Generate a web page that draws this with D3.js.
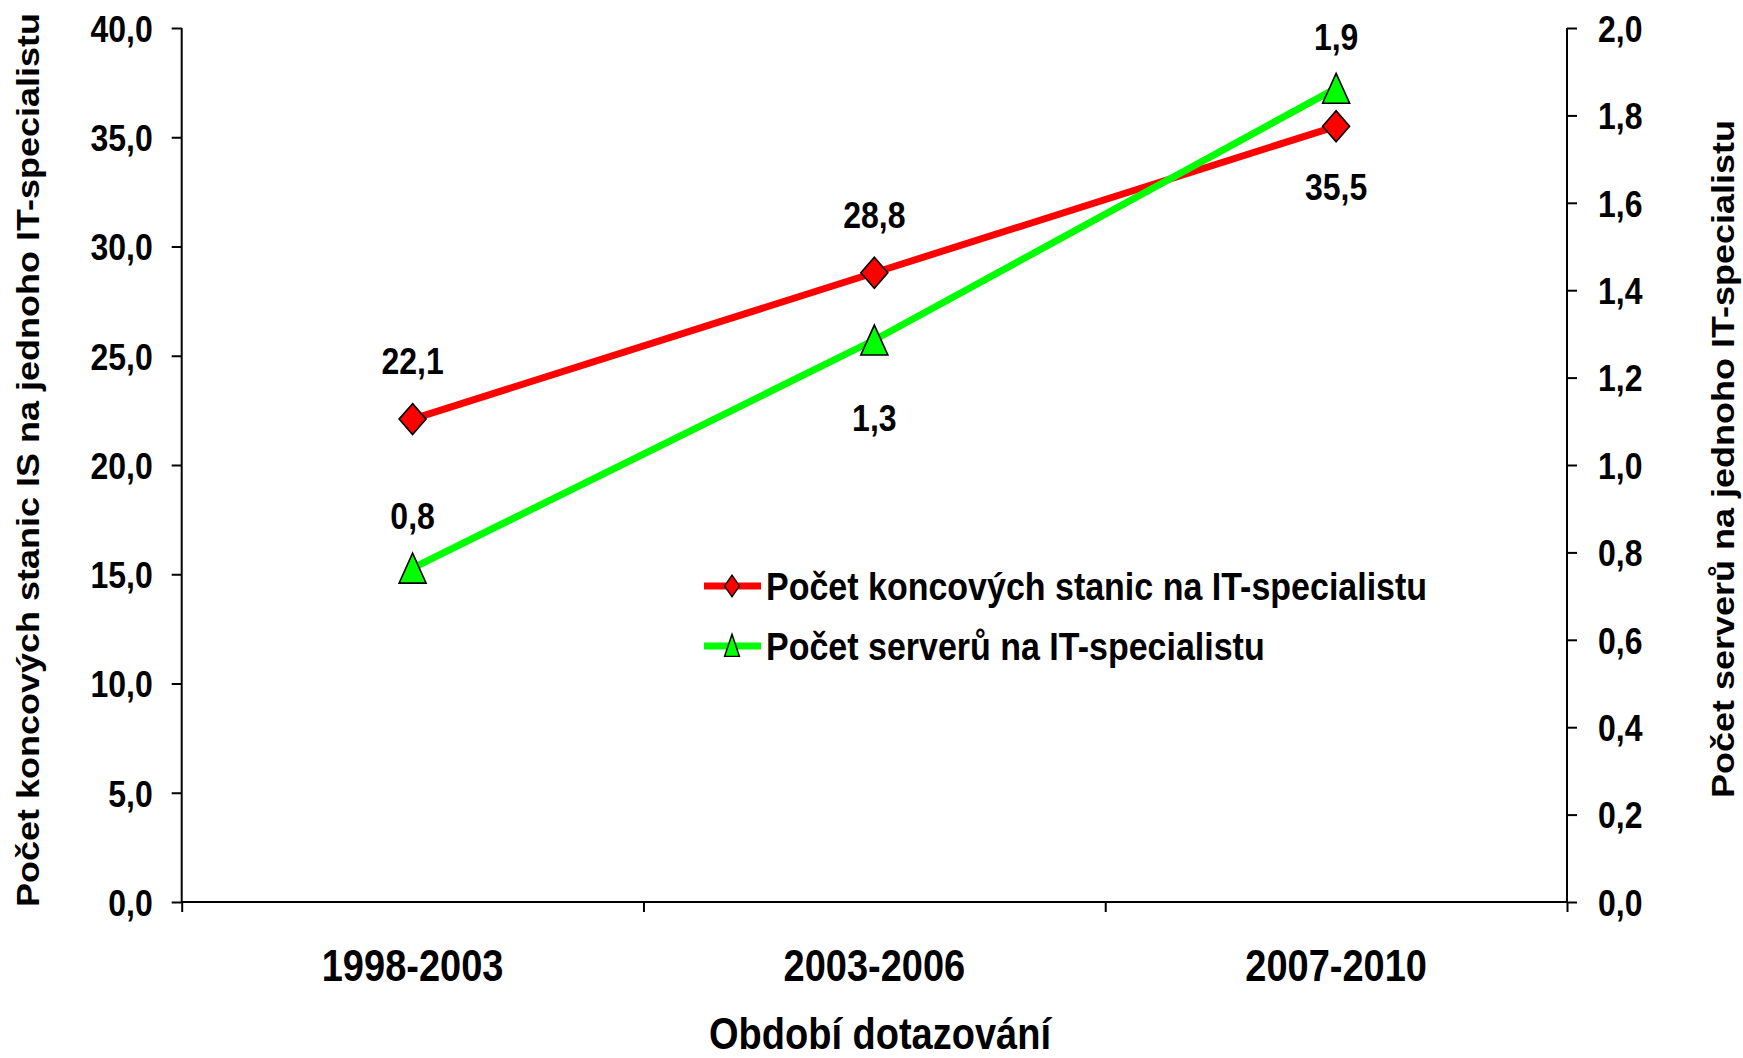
<!DOCTYPE html>
<html>
<head>
<meta charset="utf-8">
<script src="https://cdn.jsdelivr.net/npm/d3@7"></script>
<style>
  body{margin:0;background:#fff;}
  text{font-family:"Liberation Sans",Arial,sans-serif;font-weight:bold;fill:#000;}
  .axis path,.axis line{stroke:#000;stroke-width:2px;}
</style>
</head>
<body>
<svg id="chart" width="1743" height="1058"></svg>
<script>
//Terminals and servers per one IT specialist, by survey period

var periods = ["1998-2003","2003-2006","2007-2010"];
var stations = [22.1, 28.8, 35.5];      //left axis
var servers = [0.764, 1.286, 1.862];    //right axis
var stationLabelPos = ["above","above","below"];
var serverLabelPos = ["above","below","above"];
var leftTicks = [0,5,10,15,20,25,30,35,40];
var rightTicks = [0,0.2,0.4,0.6,0.8,1.0,1.2,1.4,1.6,1.8,2.0];
var seriesNames = ["Počet koncových stanic na IT-specialistu","Počet serverů na IT-specialistu"];
var leftTitle = "Počet koncových stanic IS na jednoho IT-specialistu";
var rightTitle = "Počet serverů na jednoho IT-specialistu";
var xTitle = "Období dotazování";

var svg = d3.select("#chart");
var stretch = 1.15; //the original picture is a bit taller than wide

let pLeft = 181.7, pRight = 1567, pTop = 28, pBottom = 902;

let xBand = d3.scaleBand().domain(periods).range([pLeft,pRight]).paddingInner(0).paddingOuter(0);
let xPos = d => xBand(d) + xBand.bandwidth()/2;
let yLeft = d3.scaleLinear().domain([0,40]).range([pBottom,pTop]);
let yRight = d3.scaleLinear().domain([0,2]).range([pBottom,pTop]);
let fmt1 = v => d3.format(".1f")(v).replace(".",",");

//axes
let gl = svg.append("g").classed("axis",true)
  .attr("transform","translate("+pLeft+",0)")
  .call(d3.axisLeft(yLeft).tickValues(leftTicks).tickSize(10).tickPadding(19).tickFormat(fmt1));
let gr = svg.append("g").classed("axis",true)
  .attr("transform","translate("+pRight+",0)")
  .call(d3.axisRight(yRight).tickValues(rightTicks).tickSize(10).tickPadding(21).tickFormat(fmt1));
[gl,gr].forEach(g => {
  g.select(".domain").attr("d","M0,"+pTop+"V"+pBottom);
  g.selectAll("text").attr("font-size",32).attr("font-family",null)
    .attr("dy","0.36em").attr("transform","scale(1,"+stretch+")");
});

//x axis: ticks sit on the category boundaries
let xEdges = d3.scaleLinear().domain([0,periods.length]).range([pLeft,pRight]);
let gx = svg.append("g").classed("axis",true)
  .attr("transform","translate(0,"+pBottom+")")
  .call(d3.axisBottom(xEdges).tickValues(d3.range(periods.length+1)).tickSize(10).tickFormat(""));
gx.select(".domain").attr("d","M"+pLeft+",0H"+pRight);

svg.append("g").selectAll("text").data(periods).enter().append("text")
  .attr("transform", d => "translate("+xPos(d)+",965) scale(1,"+stretch+")")
  .attr("text-anchor","middle")
  .attr("dy","0.36em")
  .attr("font-size",38)
  .text(d => d);

//titles
svg.append("text")
  .attr("transform","translate(880,1033) scale(1,"+stretch+")")
  .attr("text-anchor","middle").attr("dy","0.36em").attr("font-size",38)
  .text(xTitle);
svg.append("text")
  .attr("transform","translate(28,460) rotate(-90) scale("+stretch+",1)")
  .attr("text-anchor","middle").attr("dy","0.36em").attr("font-size",31.3)
  .text(leftTitle);
svg.append("text")
  .attr("transform","translate(1723,459) rotate(-90) scale("+stretch+",1)")
  .attr("text-anchor","middle").attr("dy","0.36em").attr("font-size",31.3)
  .text(rightTitle);

//series
let diamond = d3.symbol().type(d3.symbolSquare).size(364)();
let triangle = d3.symbol().type(d3.symbolTriangle).size(316)();

let series = [
  {values: stations, y: yLeft, color: "#ff0000", marker: diamond, pos: stationLabelPos,
   markerT: "rotate(45)", markerS: "scale(1,"+stretch+")", shift: 0, off: {above: 58, below: 60}},
  {values: servers, y: yRight, color: "#00ff00", marker: triangle, pos: serverLabelPos,
   markerT: "", markerS: "scale(1,1.28)", shift: 5, off: {above: 52, below: 78}}
];

series.forEach(s => {
  let pts = periods.map((p,i) => [xPos(p), s.y(s.values[i])]);
  svg.append("path")
    .datum(pts)
    .attr("d", d3.line())
    .attr("fill","none")
    .attr("stroke",s.color)
    .attr("stroke-width",7);

  svg.append("g").selectAll("path").data(pts).enter().append("path")
    .attr("d", s.marker)
    .attr("transform", d => "translate("+d[0]+","+(d[1]+s.shift)+") "+s.markerS+" "+s.markerT)
    .attr("fill",s.color)
    .attr("stroke","#000")
    .attr("stroke-width",1.6)
    .attr("vector-effect","non-scaling-stroke");

  svg.append("g").selectAll("text").data(pts).enter().append("text")
    .attr("transform", (d,i) => "translate("+d[0]+","+(s.pos[i]==="above" ? d[1]-s.off.above : d[1]+s.off.below)+") scale(1,"+stretch+")")
    .attr("text-anchor","middle")
    .attr("dy","0.36em")
    .attr("font-size",32)
    .text((d,i) => fmt1(s.values[i]));
});

//legend
let legend = svg.append("g");
let legendY = [586,646];
series.forEach((s,i) => {
  let g = legend.append("g").attr("transform","translate(0,"+legendY[i]+")");
  g.append("line")
    .attr("x1",704).attr("x2",761).attr("y1",0).attr("y2",0)
    .attr("stroke",s.color).attr("stroke-width",7);
  g.append("path")
    .attr("d", s.marker)
    .attr("transform", i === 0 ? "translate(732,0) scale(0.55,0.8) rotate(45)" : "translate(732,3) scale(0.55,0.95)")
    .attr("fill",s.color)
    .attr("stroke","#000")
    .attr("stroke-width",1.4)
    .attr("vector-effect","non-scaling-stroke");
  g.append("text")
    .attr("transform","translate(766,0) scale(1,"+stretch+")")
    .attr("dy","0.36em")
    .attr("font-size",34)
    .text(seriesNames[i]);
});
</script>
</body>
</html>
